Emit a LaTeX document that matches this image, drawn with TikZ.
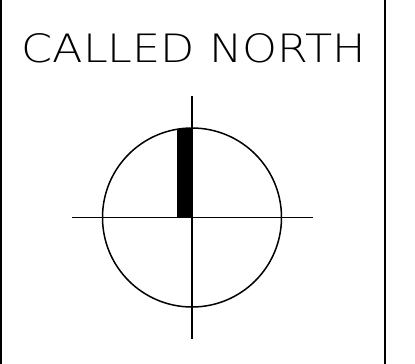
\documentclass[tikz,border=0pt]{standalone}
\usepackage{fontspec}
\setmainfont{DejaVu Sans ExtraLight}
\begin{document}
\begin{tikzpicture}[x=1pt,y=-1pt,
  frame/.style={line width=2.2pt},
  hair/.style={line width=1.3pt},
  ring/.style={line width=1.5pt}]
\useasboundingbox (0,0) rectangle (415,364);
\coordinate (c) at (192,217.5);
\draw[frame] (1.1,0) -- (1.1,364);
\draw[frame] (384.8,0) -- (384.8,364);
\node[inner sep=0pt, anchor=center] (title) at (193.7,48)
  {\resizebox{344pt}{29pt}{CALLED NORTH}};
\fill (176.7,128.5) rectangle (192,217.5);
\draw[ring] (c) circle (89.5);
\coordinate (hl) at (72,217.5);
\coordinate (hr) at (312.5,217.5);
\coordinate (vt) at (192,96);
\coordinate (vb) at (192,338.5);
\draw[hair] (hl) -- (hr);
\draw[hair] (vt) -- (vb);
\end{tikzpicture}
\end{document}
